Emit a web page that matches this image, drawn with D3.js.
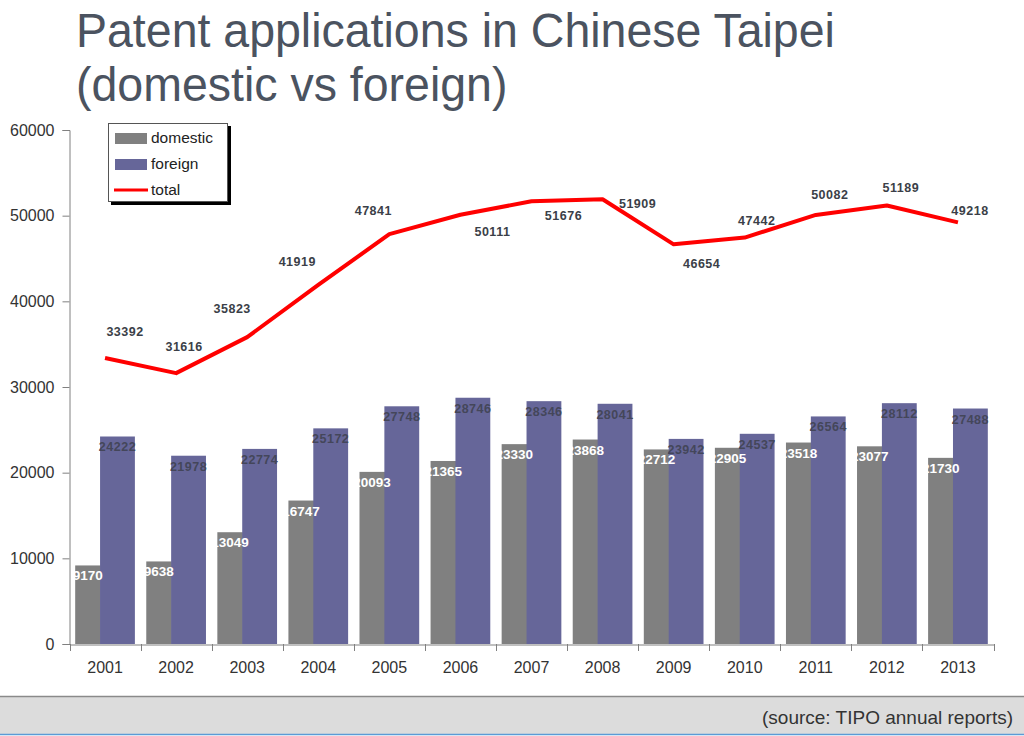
<!DOCTYPE html>
<html>
<head>
<meta charset="utf-8">
<script src="https://cdn.jsdelivr.net/npm/d3@7"></script>
<style>
  html, body { margin: 0; padding: 0; background: #fff; }
  svg { display: block; font-family: "Liberation Sans", Arial, sans-serif; }
</style>
</head>
<body>
<svg id="chart" width="1024" height="736"></svg>
<script>
// ---- data ----
const years = ["2001","2002","2003","2004","2005","2006","2007","2008","2009","2010","2011","2012","2013"];
const domestic = [9170, 9638, 13049, 16747, 20093, 21365, 23330, 23868, 22712, 22905, 23518, 23077, 21730];
const foreign  = [24222, 21978, 22774, 25172, 27748, 28746, 28346, 28041, 23942, 24537, 26564, 28112, 27488];
const total    = [33392, 31616, 35823, 41919, 47841, 50111, 51676, 51909, 46654, 47442, 50082, 51189, 49218];
const yTicks   = [0, 10000, 20000, 30000, 40000, 50000, 60000];
const seriesNames = ["domestic", "foreign", "total"];

// label placement offsets for the total line (style, not data)
const totalLabelDx = [20, 8, -15, -21, -16, 32, 32, 35, 28, 12, 14, 14, 12];
const totalLabelDy = [-26, -27, -28, -23, -24, 17, 14, 4, 19, -17, -20, -18, -12];

const colors = { domestic: "#808080", foreign: "#666699", total: "#ff0000" };

const svg = d3.select("#chart");

// ---- title ----
const titleLines = ["Patent applications in Chinese Taipei", "(domestic vs foreign)"];
const title = svg.append("g").attr("fill", "#4b5360").attr("font-size", 46.5);
titleLines.forEach((t, i) => {
  title.append("text")
    .attr("transform", `translate(76,${47 + i * 54}) scale(1,1.03)`)
    .text(t);
});

// ---- scales ----
const x = d3.scaleBand().domain(years).range([69.5, 993.5]).paddingInner(0).paddingOuter(0);
const y = d3.scaleLinear().domain([0, 60000]).range([644, 130]);
const bw = x.bandwidth();

// ---- y axis ----
const yAxis = svg.append("g").attr("transform", "translate(69.5,0)")
  .call(d3.axisLeft(y).tickValues(yTicks).tickSize(7).tickPadding(8).tickFormat(d3.format("d")));
yAxis.select(".domain").attr("stroke", "#808080");
yAxis.selectAll(".tick line").attr("stroke", "#808080");
yAxis.selectAll(".tick text").attr("fill", "#333").attr("font-size", 16)
  .attr("font-family", "Liberation Sans, Arial, sans-serif");

// ---- bars ----
const g = svg.append("g");
g.selectAll("rect.dom").data(years).join("rect")
  .attr("class", "dom")
  .attr("x", d => x(d) + bw * 0.08)
  .attr("width", bw * 0.36)
  .attr("y", (d, i) => y(domestic[i]))
  .attr("height", (d, i) => y(0) - y(domestic[i]))
  .attr("fill", colors.domestic);

g.selectAll("rect.for").data(years).join("rect")
  .attr("class", "for")
  .attr("x", d => x(d) + bw * 0.43)
  .attr("width", bw * 0.49)
  .attr("y", (d, i) => y(foreign[i]))
  .attr("height", (d, i) => y(0) - y(foreign[i]))
  .attr("fill", colors.foreign);

// ---- x axis ----
const xAxis = svg.append("g").attr("transform", "translate(0,644.5)")
  .call(d3.axisBottom(x).tickSize(0).tickPadding(17));
xAxis.select(".domain").attr("stroke", "#808080");
xAxis.selectAll(".tick text").attr("fill", "#333").attr("font-size", 16)
  .attr("font-family", "Liberation Sans, Arial, sans-serif");
const boundaries = years.map(d => x(d)).concat([x(years[years.length - 1]) + bw]);
svg.append("g").selectAll("line").data(boundaries).join("line")
  .attr("x1", d => Math.round(d) + 0.5).attr("x2", d => Math.round(d) + 0.5)
  .attr("y1", 644).attr("y2", 651)
  .attr("stroke", "#808080");

// ---- bar labels ----
svg.append("g").selectAll("text").data(years).join("text")
  .attr("x", d => x(d) + bw * 0.08 + bw * 0.355 / 2)
  .attr("y", (d, i) => y(domestic[i]) + 15)
  .attr("text-anchor", "middle")
  .attr("font-size", 13.5).attr("font-weight", "bold")
  .attr("fill", "#ffffff")
  .text((d, i) => domestic[i]);

svg.append("g").selectAll("text").data(years).join("text")
  .attr("x", d => x(d) + bw * 0.43 + bw * 0.49 / 2)
  .attr("y", (d, i) => y(foreign[i]) + 15)
  .attr("text-anchor", "middle")
  .attr("font-size", 12.5).attr("font-weight", "bold")
  .attr("letter-spacing", 0.5)
  .attr("fill", "#44465a")
  .text((d, i) => foreign[i]);

// ---- total line ----
const cx = d => x(d) + bw / 2;
const line = d3.line().x((d, i) => cx(years[i])).y(d => y(d));
svg.append("path").datum(total)
  .attr("d", line)
  .attr("fill", "none")
  .attr("stroke", colors.total)
  .attr("stroke-width", 4)
  .attr("stroke-linejoin", "round");

svg.append("g").selectAll("text").data(years).join("text")
  .attr("x", (d, i) => cx(d) + totalLabelDx[i])
  .attr("y", (d, i) => y(total[i]) + totalLabelDy[i])
  .attr("dy", "0.35em")
  .attr("text-anchor", "middle")
  .attr("font-size", 12.5).attr("font-weight", "bold")
  .attr("letter-spacing", 0.5)
  .attr("fill", "#3b3f48")
  .text((d, i) => total[i]);

// ---- legend ----
const lg = svg.append("g").attr("transform", "translate(108,123)");
lg.append("rect").attr("x", 3).attr("y", 3).attr("width", 120).attr("height", 79).attr("fill", "#000");
lg.append("rect").attr("x", 0.5).attr("y", 0.5).attr("width", 119).attr("height", 78)
  .attr("fill", "#fff").attr("stroke", "#555").attr("stroke-width", 1);
seriesNames.forEach((name, i) => {
  const row = lg.append("g").attr("transform", `translate(0,${15 + i * 26})`);
  if (name === "total") {
    row.append("line").attr("x1", 6).attr("x2", 40).attr("y1", 0).attr("y2", 0)
      .attr("stroke", colors.total).attr("stroke-width", 3);
  } else {
    row.append("rect").attr("x", 7).attr("y", -5).attr("width", 32).attr("height", 11)
      .attr("fill", colors[name]);
  }
  row.append("text").attr("x", 43).attr("y", 0).attr("dy", "0.35em")
    .attr("font-size", 15.5).attr("fill", "#222").text(name);
});

// ---- footer ----
svg.append("rect").attr("x", 0).attr("y", 696).attr("width", 1024).attr("height", 38).attr("fill", "#dcdcdc");
svg.append("line").attr("x1", 0).attr("x2", 1024).attr("y1", 696.5).attr("y2", 696.5).attr("stroke", "#8a8a8a").attr("stroke-width", 1.5);
svg.append("line").attr("x1", 0).attr("x2", 1024).attr("y1", 734.5).attr("y2", 734.5).attr("stroke", "#5b9bd5").attr("stroke-width", 1.5);
svg.append("text").attr("x", 1013).attr("y", 724).attr("text-anchor", "end")
  .attr("font-size", 19).attr("fill", "#333").text("(source: TIPO annual reports)");
</script>
</body>
</html>
